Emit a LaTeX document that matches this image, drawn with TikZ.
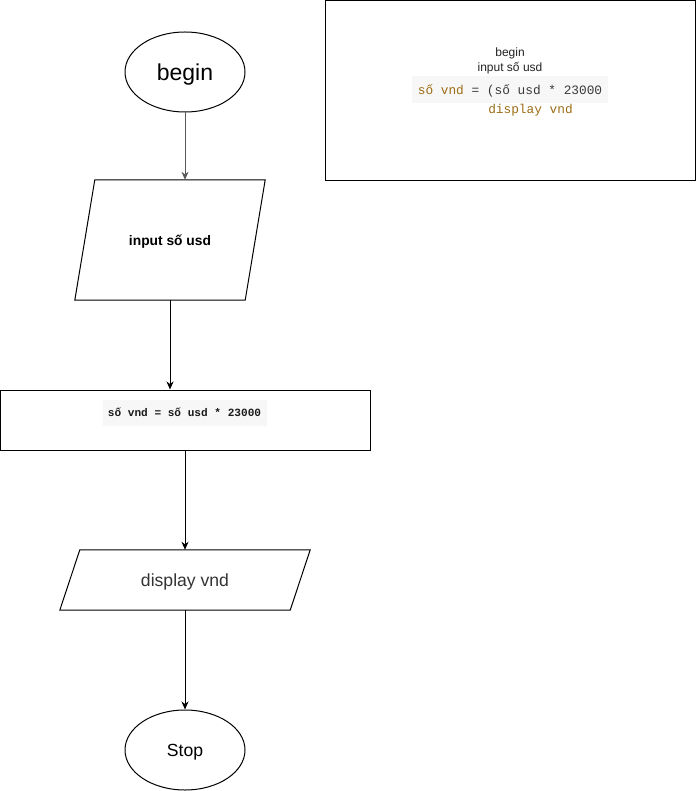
\documentclass[tikz,border=0pt]{standalone}
\usepackage{fontspec}
\setmainfont{Liberation Sans}
\newfontfamily\codefont{Liberation Mono}
\usetikzlibrary{shapes.geometric,arrows.meta}
\definecolor{codegold}{HTML}{9C6C14}
\definecolor{codegray}{HTML}{3A3A3A}
\definecolor{codebg}{HTML}{F7F7F7}
\newcommand{\fsz}[1]{\fontsize{#1}{#1}\selectfont}
% outline of a parallelogram over a rectangular node: #1 node, #2 slant offset
\newcommand{\slantbox}[2]{%
  \draw[shapeline] ([xshift=#2]#1.north west) -- (#1.north east)
    -- ([xshift=-#2]#1.south east) -- (#1.south west) -- cycle;}
\begin{document}
\begin{tikzpicture}[x=1pt,y=-1pt,
  shapeline/.style={draw=black,line width=1pt,line join=miter},
  terminal/.style={shapeline,ellipse,inner sep=0pt,minimum width=120pt,minimum height=80pt,text depth=0pt},
  iobox/.style={rectangle,inner sep=0pt,text depth=0pt},
  procbox/.style={shapeline,rectangle,inner sep=0pt,minimum width=370pt,minimum height=60pt},
  flow/.style={line width=1pt,-{Stealth[length=8pt,width=7pt,inset=2.5pt]}},
  codebox/.style={fill=codebg,inner xsep=4pt,inner ysep=0pt,text depth=0pt},
  plain/.style={inner sep=0pt}]
\useasboundingbox (0,0) rectangle (696,791);

% flowchart shapes
\node[terminal] (begin) at (185,72) {\fsz{23}begin};
\node[iobox,minimum width=190pt,minimum height=120pt] (input) at (170,240)
      {\fsz{13.8}\bfseries input số usd};
\slantbox{input}{20pt}
\node[procbox] (process) at (185.5,420) {};
\node[codebox,minimum width=164pt,minimum height=26pt] (calc) at (184.5,412.5)
      {\codefont\fsz{11.1}\bfseries\color[HTML]{1A1A1A}số vnd = số usd * 23000};
\node[iobox,minimum width=250pt,minimum height=60pt] (display) at (185,580)
      {\fsz{17.6}\color[HTML]{333333}display vnd};
\slantbox{display}{20pt}
\node[terminal] (stop) at (185,750) {\fsz{17.6}Stop};

% connectors
\draw[flow,draw=black!65] (begin.south) -- (begin.south |- input.north);
\draw[flow] (input.south) -- (input.south |- process.north);
\draw[flow] (process.south -| display.north) -- (display.north);
\draw[flow] (display.south) -- (stop.north);

% pseudocode panel
\node[shapeline,rectangle,inner sep=0pt,minimum width=370pt,minimum height=180pt] (panel) at (510.5,90.5) {};
\node[plain] (pbegin) at (510,53) {\fsz{12}\color[HTML]{222222}begin};
\node[plain] (pinput) at (510,68) {\fsz{12}\color[HTML]{222222}input số usd};
\node[codebox,minimum width=196pt,minimum height=27pt] (pcalc) at (510,89.5)
      {\codefont\fsz{12.8}\textcolor{codegold}{số vnd} \textcolor{codegray}{= (số usd * 23000}};
\node[plain] (pdisplay) at (530.5,110.5) {\codefont\fsz{12.8}\textcolor{codegold}{display vnd}};
\end{tikzpicture}
\end{document}
